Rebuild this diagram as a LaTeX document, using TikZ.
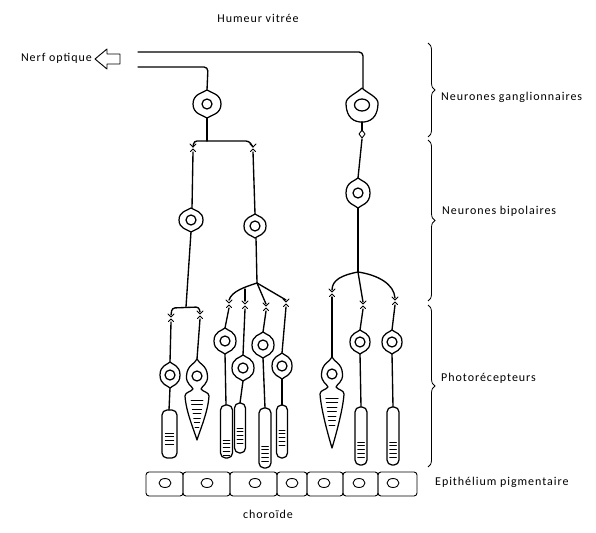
\documentclass[tikz,border=0pt]{standalone}
\usepackage{fontspec}
\newfontfamily\lbl{Carlito}[LetterSpace=8]
\usetikzlibrary{decorations.pathreplacing}
\tikzset{
  cell/.style={line width=1.25pt, line join=round, line cap=round},
  fib/.style={line width=1.35pt, line join=round, line cap=round},
  synl/.style={line width=0.9pt, line join=round, line cap=round},
  lab/.style={font=\lbl\fontsize{12}{14}\selectfont, inner sep=0pt},
  brc/.style={line width=0.8pt, decorate, decoration={brace, amplitude=7pt}},
}
\newcommand\soma[4]{%
  \begin{scope}[shift={(#1,#2)}]
    \draw[cell] (0,-#4) .. controls ({0.25*#3},{-0.8*#4}) and (#3,{-0.75*#4}) .. (#3,0)
      .. controls (#3,{0.75*#4}) and ({0.25*#3},{0.8*#4}) .. (0,#4)
      .. controls ({-0.25*#3},{0.8*#4}) and (-#3,{0.75*#4}) .. (-#3,0)
      .. controls (-#3,{-0.75*#4}) and ({-0.25*#3},{-0.8*#4}) .. cycle;
    \draw[cell] (0,0) circle [radius=5];
  \end{scope}}
\newcommand\conecell[3]{%
  \begin{scope}[shift={(#1,#2)}]
    \draw[cell] (0,-18) .. controls (2,-13) and (10,-12) .. (10.5,-1)
      .. controls (11,7) and (5,9) .. (4,12)
      .. controls (6,15) and (12,15) .. (12,19)
      .. controls (11,35) and (3,{#3-10}) .. (0,#3)
      .. controls (-3,{#3-10}) and (-11,35) .. (-12,19)
      .. controls (-12,15) and (-6,15) .. (-4,12)
      .. controls (-5,9) and (-11,7) .. (-10.5,-1)
      .. controls (-10,-12) and (-2,-13) .. cycle;
    \draw[cell] (0,-1) circle [radius=5];
    \foreach \i in {0,...,6}{
      \pgfmathsetmacro\yy{23+4.5*\i}
      \pgfmathsetmacro\ww{0.55*12*(#3-\yy)/(#3-19)}
      \draw[synl] (-\ww,\yy) -- (\ww,\yy);
    }
  \end{scope}}
% rod outer segment: cx, top, bottom, halfwidth, first stripe y, number of stripes-1
\newcommand\rodseg[6]{%
  \draw[cell, rounded corners=5pt] ({#1-#4},#2) rectangle ({#1+#4},#3);
  \foreach \i in {0,...,#6}{
    \pgfmathsetmacro\yy{#5+3.8*\i}
    \draw[synl] ({#1-0.55*#4},\yy) -- ({#1+0.55*#4},\yy);
  }}
\newcommand\syn[2]{%
  \draw[synl] ({#1-3},{#2-4}) -- (#1,{#2-1}) -- ({#1+3},{#2-4});
  \draw[synl] ({#1-2.5},{#2+3.5}) -- (#1,{#2+1}) -- ({#1+2.5},{#2+3.5});}
\begin{document}
\begin{tikzpicture}[x=1pt,y=-1pt]
\useasboundingbox (0,0) rectangle (596,532);

% labels
\node[lab] (hv) at (258,18) {Humeur vitrée};
\node[lab, anchor=east] (no) at (92,58) {Nerf optique};
\node[lab, anchor=west] (ng) at (441,97) {Neurones ganglionnaires};
\node[lab, anchor=west] (nb) at (442,211) {Neurones bipolaires};
\node[lab, anchor=west] (ph) at (441,378) {Photorécepteurs};
\node[lab, anchor=west] (ep) at (435,482) {Epithélium pigmentaire};
\node[lab] (ch) at (268,514) {choroïde};

% hollow arrow
\draw[line width=0.9pt, line join=round] (95,59) -- (107,49) -- (107,54) -- (120,54) -- (120,64) -- (107,64) -- (107,69) -- cycle;

% braces
\draw[brc] (428,43) -- (428,137);
\draw[brc] (428,140) -- (428,301);
\draw[brc] (428,305) -- (428,467);

% optic nerve fibres
\draw[fib, rounded corners=4pt] (138,52) -- (363,52) -- (363,88);
\draw[fib, rounded corners=4pt] (138,67) -- (208,67) -- (207,90);

% ganglion 1
\soma{207}{104}{14}{14}
\draw[fib] (207,118) -- (207,141);
\draw[fib, rounded corners=3pt] (193,147) -- (194,141) -- (249,141) -- (253,147);
\syn{193}{148}
\syn{253}{148}

% ganglion 2
\begin{scope}[shift={(362,105)}]
  \draw[cell] (0,-17) .. controls (5,-12) and (16,-8) .. (16,-2) .. controls (16,8) and (12,16) .. (2,17)
     -- (-2,17) .. controls (-12,16) and (-16,8) .. (-16,-2) .. controls (-16,-8) and (-5,-12) .. cycle;
  \draw[cell] (0,0) ellipse [x radius=7.5, y radius=6];
\end{scope}
\draw[fib] (362,122) -- (362,131);
\draw[synl] (362,130) -- (365,134) -- (362,138) -- (359,134) -- cycle;

% bipolar 1
\draw[fib] (193,152) -- (192,208);
\soma{191}{220}{12}{12}
\draw[fib] (191,232) -- (186,307);
\draw[fib, rounded corners=3pt] (171,315) -- (172,308) -- (199,307) -- (200,312);
\syn{171}{318}
\syn{200}{315}

% bipolar 2
\draw[fib] (253,152) -- (255,214);
\soma{255}{226}{11}{12}
\draw[fib] (256,238) -- (257,283);
\draw[fib] (257,283) .. controls (245,287) and (232,291) .. (229,300);
\draw[fib] (245,289) -- (245,301);
\draw[fib] (257,283) -- (266,304);
\draw[fib] (257,283) -- (286,300);
\syn{229}{304}
\syn{245}{305}
\syn{266}{307}
\syn{286}{303}

% bipolar 3
\draw[fib] (362,139) -- (358,178);
\soma{358}{193}{12}{15}
\draw[fib] (358,208) -- (358,272);
\draw[fib] (358,272) .. controls (342,275) and (332,280) .. (332,290);
\draw[fib] (358,272) -- (363,302);
\draw[fib] (358,272) .. controls (378,275) and (394,284) .. (395,298);
\syn{332}{293}
\syn{363}{305}
\syn{395}{301}

% photoreceptors - left group
\draw[fib] (171,322) -- (170,362);
\soma{170}{375}{10}{13}
\draw[fib] (170,388) -- (169,410);
\rodseg{169.5}{410}{458}{7.5}{433}{3}

\draw[fib] (200,319) -- (197,359);
\conecell{197}{377}{63}

% middle group
\draw[fib] (229,308) -- (225,328);
\soma{225}{341}{11}{13}
\draw[fib] (225,354) -- (226,405);
\rodseg{226.5}{405}{458}{6}{440}{4}

\draw[fib] (245,309) -- (243,355);
\soma{243}{368}{11}{13}
\draw[fib] (243,381) -- (240,403);
\rodseg{240}{403}{453}{5.5}{428}{4}

\draw[fib] (266,311) -- (263,332);
\soma{263}{345}{11}{13}
\draw[fib] (263,358) -- (265,408);
\rodseg{265}{408}{468}{6}{446}{4}

\draw[fib] (286,307) -- (282,353);
\soma{282}{366}{10}{13}
\draw[fib] (282,379) -- (282,405);
\rodseg{282}{405}{458}{5.5}{430}{4}

% right group
\draw[fib] (332,297) -- (332,357);
\conecell{332}{375}{73}

\draw[fib] (363,309) -- (360,330);
\soma{360}{342}{10}{12}
\draw[fib] (360,354) -- (361,407);
\rodseg{361}{407}{465}{6}{442}{4}

\draw[fib] (395,305) -- (392,330);
\soma{392}{342}{10}{12}
\draw[fib] (392,354) -- (393,407);
\rodseg{393}{407}{465}{6}{442}{4}

% pigment epithelium
\foreach \a/\b/\n in {146/183/165, 183/230/207, 230/277/255, 277/307/292, 307/343/324, 343/378/359, 378/417/393}{
  \draw[cell, line width=0.9pt, rounded corners=3pt] (\a,472) rectangle (\b,496);
  \draw[cell, line width=0.9pt] (\n,483) ellipse [x radius=6, y radius=4.5];
}
\end{tikzpicture}
\end{document}
